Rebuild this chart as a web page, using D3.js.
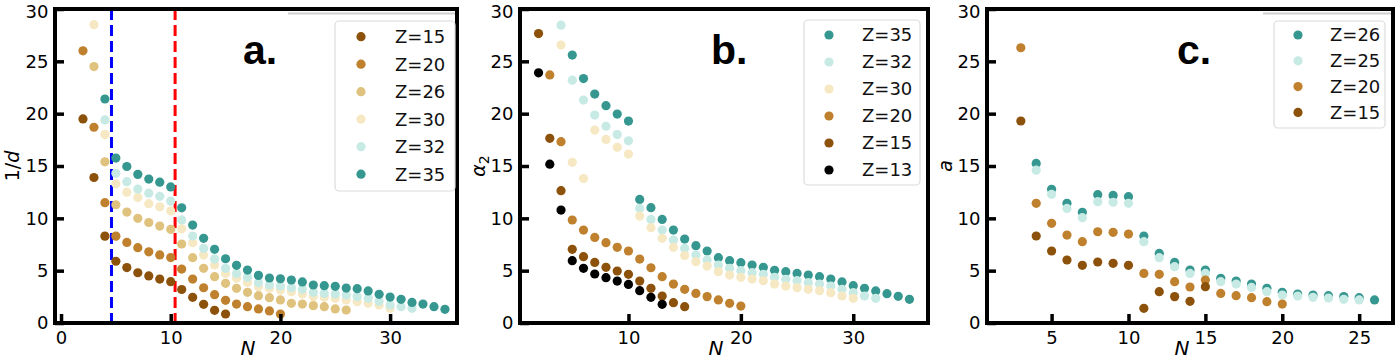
<!DOCTYPE html>
<html><head><meta charset="utf-8">
<script src="https://cdn.jsdelivr.net/npm/d3@7"></script>
<style>body{margin:0;background:#fff}</style>
</head><body>
<svg id="chart" width="1400" height="360"></svg>
<script>
// ---------- shared ----------
const yTicks = [0, 5, 10, 15, 20, 25, 30];
const colors = {Z13:"#000000", Z15:"#8c510a", Z20:"#bf812d", Z26:"#dfc27d", Z30:"#f6e8c3", Z32:"#c7eae5", Z35:"#35978f", Z25:"#c7eae5", Z26c:"#35978f"};

// ---------- panel a : 1/d ----------
const aTicks = [0, 10, 20, 30];
const aBlueN = 4.6, aRedN = 10.4;
const aN15 = [2,3,4,5,6,7,8,9,10,11,12,13,14,15];
const aZ15 = [19.5,13.9,8.3,5.9,5.3,4.8,4.5,4.2,3.95,3.2,2.45,1.78,1.21,0.86];
const aN20 = [2,3,4,5,6,7,8,9,10,11,12,13,14,15,16,17,18,19,20];
const aZ20 = [26.0,18.7,11.5,8.3,7.7,7.2,6.8,6.5,6.25,5.15,4.2,3.37,2.71,2.17,1.81,1.56,1.34,1.15,0.86];
const aN26 = [3,4,5,6,7,8,9,10,11,12,13,14,15,16,17,18,19,20,21,22,23,24,25,26];
const aZ26 = [24.5,15.4,11.3,10.6,10.0,9.6,9.26,8.95,7.55,6.24,5.22,4.43,3.79,3.31,2.93,2.61,2.42,2.20,1.88,1.81,1.66,1.56,1.34,1.24];
const aN30 = [3,4,5,6,7,8,9,10,11,12,13,14,15,16,17,18,19,20,21,22,23,24,25,26,27,28,29,30];
const aZ30 = [28.5,18.0,13.3,12.5,12.0,11.4,11.1,10.7,9.0,7.67,6.49,5.54,4.74,4.27,3.88,3.47,3.31,3.15,2.99,2.77,2.52,2.45,2.36,2.20,2.04,1.88,1.72,1.40];
const aN32 = [4,5,6,7,8,9,10,11,12,13,14,15,16,17,18,19,20,21,22,23,24,25,26,27,28,29,30,31,32];
const aZ32 = [19.4,14.3,13.5,12.8,12.4,12.1,11.65,9.85,8.31,7.13,6.11,5.22,4.74,4.36,3.85,3.63,3.53,3.37,3.22,2.93,2.83,2.77,2.67,2.52,2.36,2.07,1.72,1.56,1.40];
const aN35 = [4,5,6,7,8,9,10,11,12,13,14,15,16,17,18,19,20,21,22,23,24,25,26,27,28,29,30,31,32,33,34,35];
const aZ35 = [21.4,15.76,14.95,14.2,13.75,13.45,13.0,11.0,9.36,8.09,7.04,6.14,5.51,5.06,4.55,4.30,4.23,4.11,3.92,3.63,3.57,3.50,3.34,3.28,3.06,2.74,2.48,2.26,1.97,1.81,1.56,1.31];

// ---------- panel b : alpha_2 ----------
const bTicks = [10, 20, 30];
const bN35 = [5,6,7,8,9,10,11,12,13,14,15,16,17,18,19,20,21,22,23,24,25,26,27,28,29,30,31,32,33,34,35];
const bZ35 = [25.6,23.35,21.87,20.76,19.96,19.29,11.81,11.02,9.90,8.88,8.02,7.39,6.88,6.24,5.95,5.76,5.54,5.32,5.03,4.90,4.74,4.58,4.43,4.20,3.92,3.57,3.31,3.06,2.80,2.55,2.26];
const bN32 = [4,5,6,7,8,9,10,11,12,13,14,15,16,17,18,19,20,21,22,23,24,25,26,27,28,29,30,31,32];
const bZ32 = [28.45,23.2,21.3,19.87,18.8,18.0,17.41,10.95,9.90,8.88,7.93,7.13,6.49,6.02,5.54,5.22,5.0,4.81,4.65,4.36,4.17,4.04,3.85,3.72,3.53,3.22,2.90,2.58,2.36];
const bN30 = [4,5,6,7,8,9,10,11,12,13,14,15,16,17,18,19,20,21,22,23,24,25,26,27,28,29,30];
const bZ30 = [26.55,15.35,13.8,18.43,17.54,16.78,16.14,10.22,9.11,8.09,7.23,6.45,5.86,5.44,4.90,4.58,4.36,4.20,4.04,3.72,3.53,3.37,3.22,3.09,2.90,2.58,2.36];
const bN20 = [3,4,5,6,7,8,9,10,11,12,13,14,15,16,17,18,19,20];
const bZ20 = [23.7,17.32,9.84,8.88,8.18,7.67,7.23,6.88,6.11,5.28,4.43,3.72,3.22,2.83,2.52,2.20,1.88,1.62];
const bN15 = [2,3,4,5,6,7,8,9,10,11,12,13,14,15];
const bZ15 = [27.65,17.64,12.64,7.04,6.34,5.79,5.32,4.97,4.65,4.01,3.31,2.58,1.94,1.56];
const bN13 = [2,3,4,5,6,7,8,9,10,11,12,13];
const bZ13 = [23.9,15.17,10.79,5.95,5.22,4.68,4.33,4.01,3.69,3.09,2.45,1.78];

// ---------- panel c : a ----------
const cTicks = [5, 10, 15, 20, 25];
const cN26 = [4,5,6,7,8,9,10,11,12,13,14,15,16,17,18,19,20,21,22,23,24,25,26];
const cZ26 = [15.25,12.77,11.43,10.57,12.26,12.19,12.07,8.31,6.65,5.79,5.06,5.06,4.27,4.01,3.72,3.31,2.93,2.77,2.67,2.61,2.52,2.42,2.20];
const cN25 = [4,5,6,7,8,9,10,11,12,13,14,15,16,17,18,19,20,21,22,23,24,25];
const cZ25 = [14.6,12.29,10.95,10.06,11.59,11.53,11.43,7.77,6.24,5.38,4.74,4.74,3.95,3.72,3.40,2.99,2.67,2.58,2.45,2.39,2.26,2.20];
const cN20 = [3,4,5,6,7,8,9,10,11,12,13,14,15,16,17,18,19,20];
const cZ20 = [26.3,11.43,9.52,8.40,7.77,8.72,8.66,8.50,4.74,4.65,3.95,3.44,4.11,2.83,2.61,2.42,2.04,1.81];
const cN15 = [3,4,5,6,7,8,9,10,11,12,13,14,15];
const cZ15 = [19.3,8.31,6.88,6.02,5.51,5.83,5.70,5.51,1.40,2.99,2.52,2.07,3.47];

const svg = d3.select("#chart");
const FONT = "DejaVu Sans, sans-serif";
const TOP = 9, BOTTOM = 323;

function panel(cfg) {
  const x = d3.scaleLinear().domain(cfg.xDomain).range([cfg.left, cfg.right]);
  const y = d3.scaleLinear().domain([0, 30]).range([BOTTOM, TOP]);
  const g = svg.append("g");

  if (cfg.grayLine) {
    g.append("line").attr("x1", cfg.grayLine[0]).attr("x2", cfg.grayLine[1])
      .attr("y1", 13.5).attr("y2", 13.5).attr("stroke", "#cfcfcf").attr("stroke-width", 2);
  }

  (cfg.vlines || []).forEach(v => {
    g.append("line").attr("x1", x(v.n)).attr("x2", x(v.n)).attr("y1", TOP).attr("y2", BOTTOM)
      .attr("stroke", v.color).attr("stroke-width", 3).attr("stroke-dasharray", "11,5");
  });

  cfg.series.forEach(s => {
    g.append("g").selectAll("circle").data(s.N.map((n, i) => [n, s.v[i]])).join("circle")
      .attr("cx", d => x(d[0])).attr("cy", d => y(d[1])).attr("r", 4.6).attr("fill", s.color);
  });

  const ya = g.append("g").attr("transform", `translate(${cfg.left},0)`)
    .call(d3.axisLeft(y).tickValues(yTicks).tickSizeInner(-9).tickSizeOuter(0).tickPadding(6.5));
  const xa = g.append("g").attr("transform", `translate(0,${BOTTOM})`)
    .call(d3.axisBottom(x).tickValues(cfg.xTicks).tickSizeInner(-9).tickSizeOuter(0).tickPadding(8));
  [ya, xa].forEach(a => {
    a.select(".domain").remove();
    a.selectAll(".tick line").attr("stroke", "#000").attr("stroke-width", 3.5);
    a.selectAll(".tick text").attr("font-family", FONT).attr("font-size", 18).attr("fill", "#000");
  });
  // keep the top "30" label inside the picture
  ya.selectAll(".tick text").filter(d => d === 30).attr("dy", "0.45em");

  g.append("rect").attr("x", cfg.left).attr("y", TOP).attr("width", cfg.right - cfg.left)
    .attr("height", BOTTOM - TOP).attr("fill", "none").attr("stroke", "#000").attr("stroke-width", 4);

  g.append("text").attr("x", cfg.tagX).attr("y", 64).attr("font-family", "Liberation Sans, Arial, sans-serif")
    .attr("font-weight", "bold").attr("font-size", 41).attr("fill", "#000").text(cfg.tag);

  g.append("text").attr("x", (cfg.left + cfg.right) / 2 - 8).attr("y", 355).attr("text-anchor", "middle")
    .attr("font-family", FONT).attr("font-style", "italic").attr("font-size", 20).text("N");

  const yl = g.append("text").attr("transform", `translate(${cfg.yLabelX},166) rotate(-90)`)
    .attr("text-anchor", "middle").attr("font-family", FONT).attr("font-size", 19);
  cfg.yLabel(yl);

  const L = cfg.legend;
  const lg = g.append("g");
  lg.append("rect").attr("x", L.x0).attr("y", L.y0).attr("width", L.x1 - L.x0).attr("height", L.y1 - L.y0)
    .attr("rx", 4).attr("fill", "#fff").attr("fill-opacity", 0.85).attr("stroke", "#dcdcdc").attr("stroke-width", 1.2);
  cfg.series.slice().sort((p, q) => p.legendOrder - q.legendOrder).forEach((s, i) => {
    const yy = L.rowY0 + i * L.rowDy;
    lg.append("circle").attr("cx", L.markX).attr("cy", yy).attr("r", 4.6).attr("fill", s.color);
    lg.append("text").attr("x", L.textX).attr("y", yy).attr("dy", "0.36em").attr("font-family", FONT)
      .attr("font-size", 18).attr("fill", "#111").text(s.label);
  });
}

panel({
  left: 55, right: 457, xDomain: [-0.55, 36.1], xTicks: aTicks, tag: "a.", tagX: 243,
  grayLine: [288, 455], yLabelX: 19,
  yLabel: t => { t.append("tspan").text("1/"); t.append("tspan").attr("font-style", "italic").text("d"); },
  vlines: [{n: aBlueN, color: "#0000ff"}, {n: aRedN, color: "#ff0000"}],
  series: [
    {N: aN15, v: aZ15, color: colors.Z15, label: "Z=15", legendOrder: 0},
    {N: aN20, v: aZ20, color: colors.Z20, label: "Z=20", legendOrder: 1},
    {N: aN26, v: aZ26, color: colors.Z26, label: "Z=26", legendOrder: 2},
    {N: aN30, v: aZ30, color: colors.Z30, label: "Z=30", legendOrder: 3},
    {N: aN32, v: aZ32, color: colors.Z32, label: "Z=32", legendOrder: 4},
    {N: aN35, v: aZ35, color: colors.Z35, label: "Z=35", legendOrder: 5}
  ],
  legend: {x0: 335, x1: 455, y0: 21, y1: 191, markX: 361, textX: 395, rowY0: 36.7, rowDy: 27.5}
});

panel({
  left: 520, right: 928, xDomain: [0.35, 36.65], xTicks: bTicks, tag: "b.", tagX: 711,
  yLabelX: 485,
  yLabel: t => { t.append("tspan").attr("font-style", "italic").text("α"); t.append("tspan").attr("font-size", 14).attr("dy", 4).text("2"); },
  series: [
    {N: bN35, v: bZ35, color: colors.Z35, label: "Z=35", legendOrder: 0},
    {N: bN32, v: bZ32, color: colors.Z32, label: "Z=32", legendOrder: 1},
    {N: bN30, v: bZ30, color: colors.Z30, label: "Z=30", legendOrder: 2},
    {N: bN20, v: bZ20, color: colors.Z20, label: "Z=20", legendOrder: 3},
    {N: bN15, v: bZ15, color: colors.Z15, label: "Z=15", legendOrder: 4},
    {N: bN13, v: bZ13, color: colors.Z13, label: "Z=13", legendOrder: 5}
  ],
  legend: {x0: 804, x1: 920, y0: 20, y1: 185, markX: 829, textX: 862, rowY0: 35, rowDy: 27}
});

panel({
  left: 987, right: 1393, xDomain: [0.8, 27.2], xTicks: cTicks, tag: "c.", tagX: 1177,
  grayLine: [1263, 1391], yLabelX: 952,
  yLabel: t => { t.append("tspan").attr("font-style", "italic").text("a"); },
  series: [
    {N: cN26, v: cZ26, color: colors.Z26c, label: "Z=26", legendOrder: 0},
    {N: cN25, v: cZ25, color: colors.Z25, label: "Z=25", legendOrder: 1},
    {N: cN20, v: cZ20, color: colors.Z20, label: "Z=20", legendOrder: 2},
    {N: cN15, v: cZ15, color: colors.Z15, label: "Z=15", legendOrder: 3}
  ],
  legend: {x0: 1274, x1: 1385, y0: 21, y1: 128, markX: 1298, textX: 1330, rowY0: 35, rowDy: 25.8}
});
</script>
</body></html>
